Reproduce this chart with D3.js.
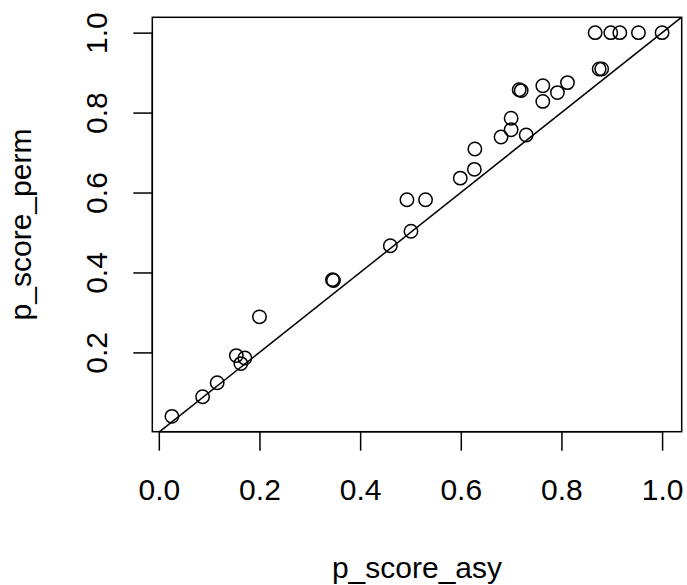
<!DOCTYPE html>
<html>
<head>
<meta charset="utf-8">
<script src="https://cdn.jsdelivr.net/npm/d3@7"></script>
<style>
  body { margin: 0; background: #fff; }
  text { font-family: "Liberation Sans", Arial, Helvetica, sans-serif; fill: #000; }
</style>
</head>
<body>
<div id="chart"></div>
<script>
// p-values, asymptotic vs permutation
var pScoreAsy = [0.867, 0.898, 0.916, 0.953, 1.000, 0.875, 0.880, 0.716, 0.720, 0.763,
                 0.812, 0.792, 0.763, 0.700, 0.700, 0.680, 0.730, 0.628, 0.627, 0.599,
                 0.530, 0.493, 0.501, 0.460, 0.345, 0.347, 0.200, 0.154, 0.171, 0.163,
                 0.116, 0.087, 0.026]
  , pScorePerm = [1.000, 1.000, 1.000, 1.000, 1.000, 0.909, 0.909, 0.857, 0.855, 0.867,
                  0.875, 0.850, 0.828, 0.786, 0.757, 0.739, 0.744, 0.709, 0.658, 0.636,
                  0.582, 0.582, 0.503, 0.467, 0.382, 0.380, 0.289, 0.192, 0.186, 0.172,
                  0.124, 0.089, 0.040]
  , xTicks = [0, 0.2, 0.4, 0.6, 0.8, 1.0]
  , yTicks = [0.2, 0.4, 0.6, 0.8, 1.0]
  , xLabel = 'p_score_asy'
  , yLabel = 'p_score_perm'
  ;

var w = 687
  , h = 585
  , box = { left: 152.3, right: 681.7, top: 17.3, bottom: 431.7 }
  , fontSize = 30
  , tick = 19
  , font = '"Liberation Sans", Arial, sans-serif'
  ;

// R style axis range: data extent padded by 4%
function pad(ext) {
  var d = (ext[1] - ext[0]) * 0.04;
  return [ext[0] - d, ext[1] + d];
}

var x = d3.scaleLinear().domain(pad(d3.extent(pScoreAsy))).range([box.left, box.right])
  , y = d3.scaleLinear().domain(pad(d3.extent(pScorePerm))).range([box.bottom, box.top])
  ;

var svg = d3.select('#chart').append('svg')
            .attr('width', w).attr('height', h)
  ;

svg.append('defs').append('clipPath').attr('id', 'clip')
  .append('rect')
  .attr('x', box.left).attr('y', box.top)
  .attr('width', box.right - box.left).attr('height', box.bottom - box.top);

// y = x reference line
var lo = Math.max(x.domain()[0], y.domain()[0])
  , hi = Math.min(x.domain()[1], y.domain()[1])
  ;
svg.append('line')
  .attr('clip-path', 'url(#clip)')
  .attr('x1', x(lo)).attr('y1', y(lo))
  .attr('x2', x(hi)).attr('y2', y(hi))
  .attr('stroke', '#000').attr('stroke-width', 1.5);

svg.append('g').selectAll('circle')
  .data(pScoreAsy)
  .enter().append('circle')
  .attr('cx', function (d) { return x(d); })
  .attr('cy', function (d, i) { return y(pScorePerm[i]); })
  .attr('r', 6.7)
  .attr('fill', 'none')
  .attr('stroke', '#000')
  .attr('stroke-width', 1.5);

// box
svg.append('rect')
  .attr('x', box.left).attr('y', box.top)
  .attr('width', box.right - box.left).attr('height', box.bottom - box.top)
  .attr('fill', 'none').attr('stroke', '#000').attr('stroke-width', 1.5);

// x axis
var xAxis = d3.axisBottom(x).tickValues(xTicks).tickSize(tick).tickPadding(0)
      .tickFormat(d3.format('.1f'))
  , gx = svg.append('g').attr('transform', 'translate(0,' + box.bottom + ')').call(xAxis)
  ;
gx.select('.domain').attr('d', 'M' + x(xTicks[0]) + ',0H' + x(xTicks[xTicks.length - 1]))
  .attr('stroke-width', 1.5);
gx.selectAll('.tick line').attr('stroke-width', 1.5);
gx.selectAll('.tick text')
  .attr('y', 68).attr('dy', null)
  .style('font-size', fontSize + 'px')
  .style('font-family', font);

// y axis, labels parallel to axis
var yAxis = d3.axisLeft(y).tickValues(yTicks).tickSize(tick).tickFormat(d3.format('.1f'))
  , gy = svg.append('g').attr('transform', 'translate(' + box.left + ',0)').call(yAxis)
  ;
gy.select('.domain').attr('d', 'M0,' + y(yTicks[0]) + 'V' + y(yTicks[yTicks.length - 1]))
  .attr('stroke-width', 1.5);
gy.selectAll('.tick line').attr('stroke-width', 1.5);
gy.selectAll('.tick text')
  .attr('x', null).attr('dy', null)
  .attr('text-anchor', 'middle')
  .attr('transform', 'translate(-45.6,0) rotate(-90)')
  .style('font-size', fontSize + 'px')
  .style('font-family', font);

svg.append('text')
  .attr('x', (box.left + box.right) / 2).attr('y', 578)
  .attr('text-anchor', 'middle')
  .style('font-size', fontSize + 'px')
  .text(xLabel);

svg.append('text')
  .attr('transform', 'translate(31,' + (box.top + box.bottom) / 2 + ') rotate(-90)')
  .attr('text-anchor', 'middle')
  .style('font-size', fontSize + 'px')
  .text(yLabel);
</script>
</body>
</html>
